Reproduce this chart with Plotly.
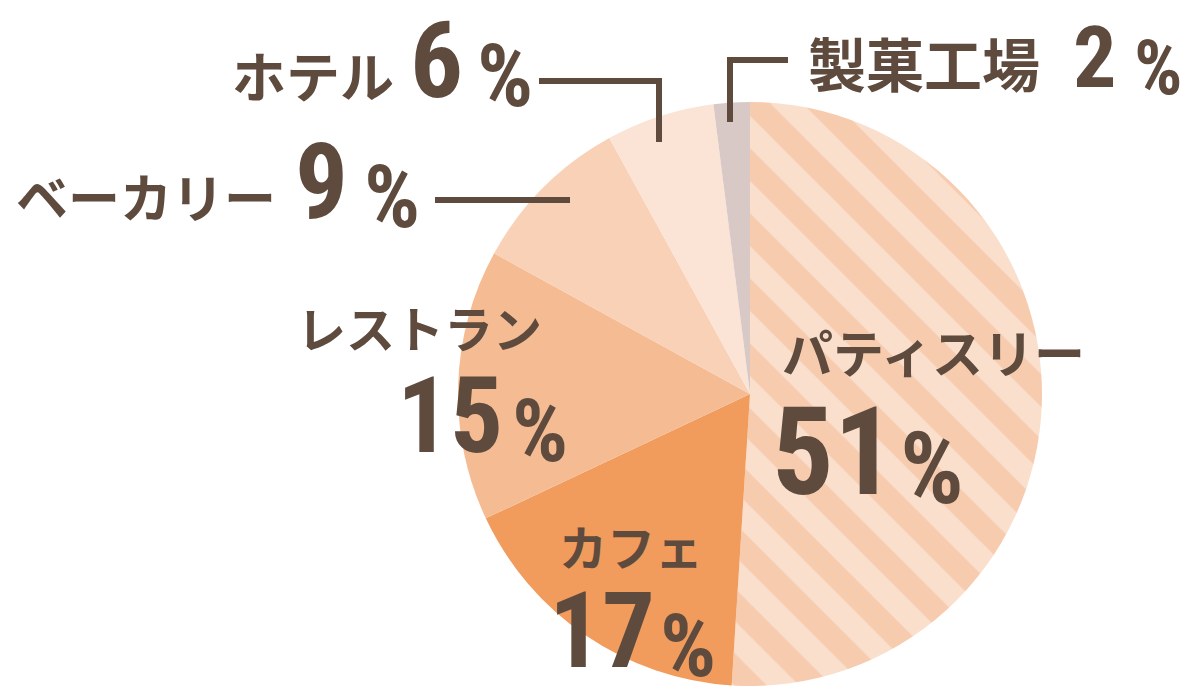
import plotly.graph_objects as go

# ---- data ----
categories = ["パティスリー", "カフェ", "レストラン", "ベーカリー", "ホテル", "製菓工場"]
values = [51, 17, 15, 9, 6, 2]
colors = ["#F7CBAE", "#F19B5C", "#F5BB93", "#F8D1B6", "#FBE4D5", "#D8C9C7"]

W, H = 1200, 700
TXT = "#5E4B3E"
JP_FONT = "Noto Sans CJK JP"
NUM_FONT = "Liberation Sans Narrow, Roboto Condensed, DejaVu Sans Condensed, sans-serif"


def px(x):
    return x / W


def py(y):
    return 1 - y / H


fig = go.Figure()
fig.add_trace(go.Pie(
    labels=categories,
    values=values,
    sort=False,
    direction="clockwise",
    rotation=0,
    textinfo="none",
    hoverinfo="label+percent",
    showlegend=False,
    domain=dict(x=[px(458), px(1042)], y=[py(686), py(102)]),
    marker=dict(
        colors=colors,
        line=dict(width=0),
        pattern=dict(
            shape=["\\", "", "", "", "", ""],
            bgcolor=["#F9DFCC"] + colors[1:],
            fgcolor=colors,
            size=46,
            solidity=0.5,
            fillmode="replace",
        ),
    ),
))

# label layout: (label centre x, label centre y, label size,
#                number centre x, number centre y, number size,
#                percent centre x, percent centre y, percent size)
label_pos = {
    "パティスリー": (933, 351, 51, 833, 452, 122, 932, 468, 100),
    "カフェ": (631, 545, 48, 602, 631, 105, 688, 645, 88),
    "レストラン": (419, 327, 49, 450, 416, 105, 540, 430, 88),
    "ベーカリー": (146, 195, 52, 321, 182, 105, 392, 197, 88),
    "ホテル": (313, 74, 54, 436, 62, 105, 505, 76, 88),
    "製菓工場": (924, 62, 58, 1094, 58, 86, 1158, 68, 76),
}

for cat, val in zip(categories, values):
    lx, ly, ls, nx, ny, ns, qx, qy, qs = label_pos[cat]
    fig.add_annotation(x=px(lx), y=py(ly), xref="paper", yref="paper",
                       text=cat, showarrow=False, xanchor="center", yanchor="middle",
                       font=dict(family=JP_FONT, size=ls, color=TXT, weight=700))
    fig.add_annotation(x=px(nx), y=py(ny), xref="paper", yref="paper",
                       text=str(val), showarrow=False, xanchor="center", yanchor="middle",
                       font=dict(family=NUM_FONT, size=ns, color=TXT, weight=700))
    fig.add_annotation(x=px(qx), y=py(qy), xref="paper", yref="paper",
                       text="%", showarrow=False, xanchor="center", yanchor="middle",
                       font=dict(family=NUM_FONT, size=qs, color=TXT, weight=700))

# leader lines
leaders = [
    [(788, 60), (730, 60), (730, 122)],
    [(539, 81), (659, 81), (659, 142)],
    [(435, 200), (570, 200)],
]
for pts in leaders:
    path = "M " + " L ".join(f"{px(x):.5f},{py(y):.5f}" for x, y in pts)
    fig.add_shape(type="path", path=path, xref="paper", yref="paper",
                  line=dict(color=TXT, width=6))

fig.update_layout(
    width=W, height=H,
    margin=dict(l=0, r=0, t=0, b=0),
    paper_bgcolor="white",
    plot_bgcolor="white",
)

fig.write_html("out.html")
